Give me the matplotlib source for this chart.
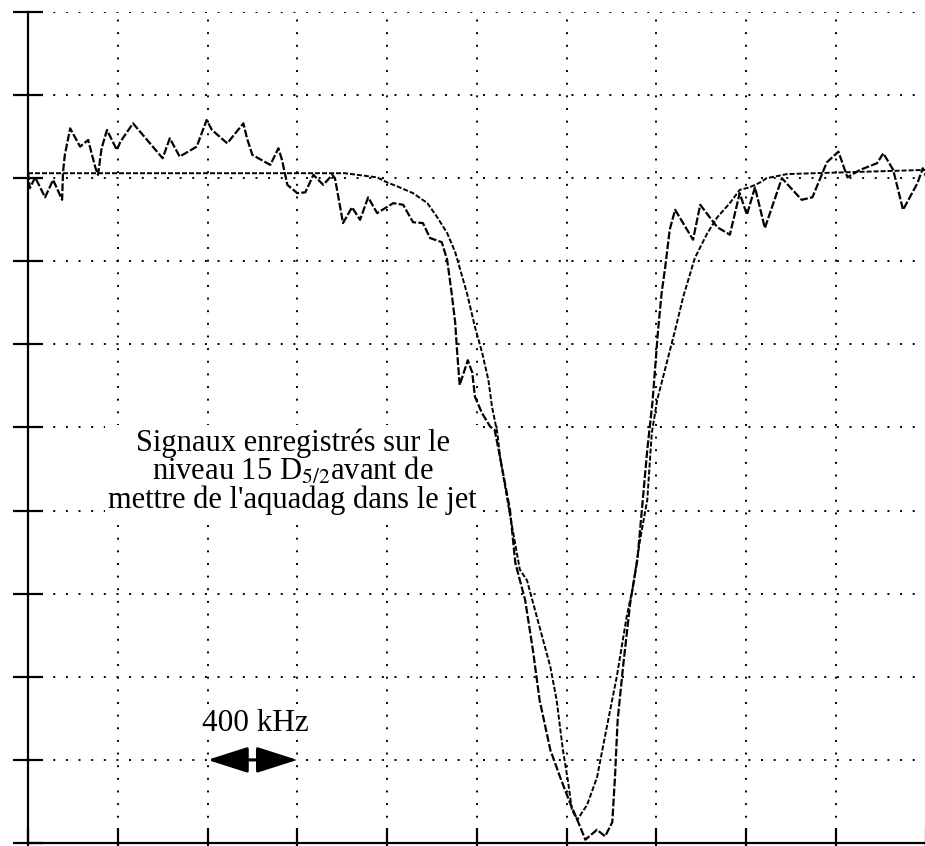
import matplotlib
matplotlib.use("Agg")
import matplotlib.pyplot as plt
from matplotlib.patches import FancyArrowPatch

plt.rcParams['mathtext.fontset'] = 'stix'

# Noisy recorded signal (grid units)
noisy_x = [0.00, 0.02, 0.08, 0.19, 0.28, 0.38, 0.39, 0.41, 0.47, 0.52, 0.58, 0.67, 0.75, 0.78,
           0.82, 0.88, 0.99, 1.03, 1.17, 1.50, 1.58, 1.69, 1.88, 1.99, 2.05, 2.22, 2.40, 2.44,
           2.50, 2.70, 2.79, 2.83, 2.89, 3.00, 3.09, 3.18, 3.29, 3.39, 3.42, 3.51, 3.61, 3.70,
           3.79, 3.89, 4.07, 4.18, 4.29, 4.40, 4.48, 4.61, 4.67, 4.72, 4.76, 4.78, 4.81, 4.90,
           4.95, 4.98, 5.06, 5.15, 5.20, 5.26, 5.37, 5.43, 5.54, 5.63, 5.70, 5.82, 5.93, 6.04,
           6.12, 6.21, 6.34, 6.43, 6.51, 6.54, 6.57, 6.63, 6.71, 6.79, 6.85, 6.90, 6.96, 7.02,
           7.06, 7.10, 7.15, 7.21, 7.41, 7.49, 7.68, 7.82, 7.93, 8.01, 8.10, 8.21, 8.40, 8.62,
           8.74, 8.90, 9.03, 9.13, 9.27, 9.46, 9.53, 9.64, 9.75, 9.91, 9.97, 10.02]
noisy_y = [8.07, 7.88, 8.01, 7.77, 7.98, 7.74, 8.07, 8.28, 8.60, 8.50, 8.38, 8.46, 8.13, 8.04,
           8.36, 8.58, 8.34, 8.44, 8.66, 8.24, 8.48, 8.26, 8.38, 8.70, 8.58, 8.42, 8.66, 8.48,
           8.28, 8.16, 8.36, 8.22, 7.92, 7.82, 7.83, 8.04, 7.92, 8.04, 8.00, 7.46, 7.65, 7.50,
           7.77, 7.58, 7.70, 7.68, 7.47, 7.46, 7.28, 7.23, 7.02, 6.62, 6.26, 5.93, 5.51, 5.81,
           5.66, 5.37, 5.17, 5.01, 4.97, 4.64, 4.01, 3.37, 2.92, 2.29, 1.72, 1.12, 0.79, 0.48,
           0.28, 0.04, 0.16, 0.08, 0.25, 0.79, 1.48, 2.12, 2.89, 3.41, 4.13, 4.73, 5.33, 6.17,
           6.62, 6.93, 7.38, 7.62, 7.26, 7.68, 7.41, 7.32, 7.82, 7.56, 7.89, 7.40, 8.00, 7.74,
           7.77, 8.19, 8.32, 8.01, 8.10, 8.18, 8.30, 8.10, 7.62, 7.94, 8.12, 7.98]

# Smooth fitted curve (grid units)
fit_x = [0.00, 3.53, 3.89, 4.00, 4.14, 4.29, 4.45, 4.56, 4.67, 4.76, 4.89, 4.98, 5.06, 5.13,
         5.17, 5.23, 5.26, 5.37, 5.48, 5.56, 5.70, 5.82, 5.89, 5.96, 6.02, 6.06, 6.12, 6.23,
         6.34, 6.45, 6.56, 6.67, 6.74, 6.82, 6.90, 6.95, 7.01, 7.21, 7.30, 7.43, 7.57, 7.68,
         7.82, 7.93, 8.04, 8.16, 8.23, 8.46, 10.00]
fit_y = [8.06, 8.06, 8.01, 7.95, 7.89, 7.82, 7.70, 7.53, 7.34, 7.11, 6.62, 6.21, 5.90, 5.57,
         5.25, 4.93, 4.64, 3.95, 3.29, 3.16, 2.60, 2.12, 1.72, 1.12, 0.72, 0.40, 0.28, 0.46,
         0.79, 1.40, 2.00, 2.72, 3.08, 3.65, 4.13, 4.93, 5.33, 6.17, 6.57, 7.04, 7.34, 7.53,
         7.70, 7.86, 7.89, 7.95, 8.00, 8.05, 8.10]

grid_ticks = list(range(11))
caption = "Signaux enregistrés sur le\nniveau 15 D$_{\\mathit{5/2}}$avant de\nmettre de l'aquadag dans le jet"
scale_label = "400 kHz"

fig = plt.figure(figsize=(9.25, 8.46), dpi=100)
ax = fig.add_axes([28 / 925, 3 / 846, 897.5 / 925, 831 / 846])
ax.set_xlim(0, 10)
ax.set_ylim(0, 10)
ax.set_xticks(grid_ticks)
ax.set_yticks(grid_ticks)
ax.tick_params(direction='inout', length=22, width=1.6, color='black',
               labelleft=False, labelbottom=False)
ax.grid(True, color='black', linestyle=(0, (1, 5.5)), linewidth=1.4)
for s in ['top', 'right']:
    ax.spines[s].set_visible(False)
for s in ['left', 'bottom']:
    ax.spines[s].set_linewidth(1.6)

ax.plot(fit_x, fit_y, color='black', linewidth=1.4, linestyle=(0, (2.6, 1.0)), zorder=3)
ax.plot(noisy_x, noisy_y, color='black', linewidth=1.6, linestyle=(0, (3.5, 1.0)), zorder=4)

ax.text(2.95, 4.47, caption, ha='center', va='center', fontsize=22,
        family='Liberation Serif', linespacing=0.93, zorder=5,
        bbox=dict(facecolor='white', edgecolor='none', boxstyle='square,pad=0.1'))
ax.text(2.53, 1.44, scale_label, ha='center', va='center', fontsize=22.5,
        family='Liberation Serif', zorder=5,
        bbox=dict(facecolor='white', edgecolor='none', boxstyle='square,pad=0.05'))

arrow = FancyArrowPatch((2.0, 1.0), (3.0, 1.0), arrowstyle='<|-|>,head_length=2.5,head_width=0.8',
                        mutation_scale=10, linewidth=2.2, color='black', shrinkA=0, shrinkB=0,
                        zorder=6)
ax.add_patch(arrow)

fig.savefig('out.png', dpi=100)
